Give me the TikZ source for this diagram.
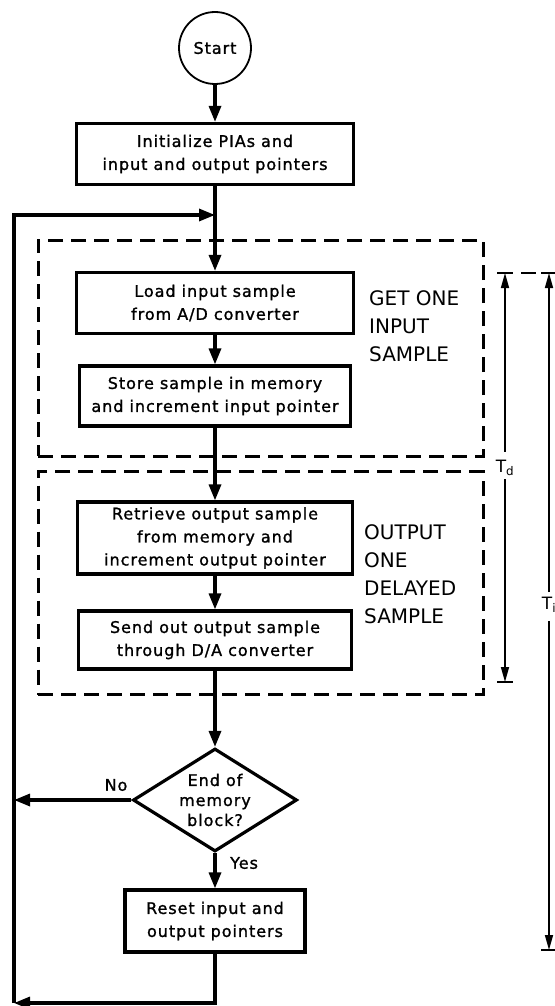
\documentclass[tikz,border=0pt]{standalone}
\usepackage{fontspec}
\setmainfont{DejaVu Sans}
\newfontfamily\boxfont[LetterSpace=6,FakeBold=1.3]{DejaVu Sans}
\usetikzlibrary{arrows.meta,shapes.geometric}

\begin{document}
\begin{tikzpicture}[x=1pt,y=-1pt,
  every node/.style={inner sep=0pt},
  proc/.style={draw,line width=3.2pt,align=center,
    font=\boxfont\fontsize{16}{23}\selectfont},
  decision/.style={draw,diamond,line width=3.2pt,minimum width=164pt,minimum height=103pt},
  term/.style={draw,circle,line width=1.8pt,minimum size=72pt,
    font=\boxfont\fontsize{16}{20}\selectfont},
  dashbox/.style={draw,line width=3pt,dash pattern=on 15pt off 8pt},
  grouplabel/.style={align=left,anchor=west,font=\fontsize{20}{28}\selectfont},
  flow/.style={line width=3.2pt,line join=miter,-{Triangle[length=16pt,width=12pt]}},
  small/.style={font=\boxfont\fontsize{16}{20}\selectfont},
  dim/.style={line width=1.6pt,-{Triangle[length=15pt,width=8pt]}},
  tick/.style={line width=2pt},
  dimlabel/.style={font=\fontsize{17}{19}\selectfont}]
\useasboundingbox (0,0) rectangle (554,1006);

% process steps
\node[term] (start) at (215,48) {Start};
\node[proc,minimum width=277pt,minimum height=61pt] (init) at (215,154)
  {Initialize PIAs and\\input and output pointers};
\node[proc,minimum width=277pt,minimum height=61pt] (load) at (215,303)
  {Load input sample\\from A/D converter};
\node[proc,minimum width=271pt,minimum height=60pt] (store) at (215,396)
  {Store sample in memory\\and increment input pointer};
\node[proc,minimum width=275pt,minimum height=72pt] (retr) at (215,538)
  {Retrieve output sample\\from memory and\\increment output pointer};
\node[proc,minimum width=273pt,minimum height=58pt] (send) at (215,640)
  {Send out output sample\\through D/A converter};
\node[decision] (dec) at (215,800) {};
\node[small,align=center] (dectext) at (dec.center)
  {End of\\memory\\block?};
\node[proc,minimum width=180pt,minimum height=62pt] (reset) at (215,921)
  {Reset input and\\output pointers};

% dashed groups
\node[dashbox,minimum width=445pt,minimum height=216pt] (grpin) at (260.5,348) {};
\node[dashbox,minimum width=445pt,minimum height=223pt] (grpout) at (260.5,583) {};
\node[grouplabel] (lblin) at (369,326) {GET ONE\\INPUT\\SAMPLE};
\node[grouplabel] (lblout) at (364,574) {OUTPUT\\ONE\\DELAYED\\SAMPLE};

% main flow
\draw[flow] (start) -- (init);
\draw[flow] (init) -- (load);
\draw[flow] (load) -- (store);
\draw[flow] (store) -- (retr);
\draw[flow] (retr) -- (send);
\draw[flow] (send) -- (dec);
\draw[flow] (dec) -- (reset);
\node[small,anchor=west] (yes) at (230,863) {Yes};

% return path
\coordinate (bl) at (14,1003);
\coordinate (join) at (215,215);
\draw[flow] (reset.south) |- (bl);
\draw[flow] (bl) |- (join);
\draw[flow] (dec.west) -- (dec.west -| bl);
\node[small] (no) at (116,785) {No};

% timing dimensions
\coordinate (tdtop) at (505,273);
\coordinate (tdbot) at (505,682);
\coordinate (titop) at (549,273);
\coordinate (tibot) at (549,950);
\node[dimlabel] (td) at (505,468) {T\textsubscript{d}};
\node[dimlabel] (ti) at (549,605) {T\textsubscript{i}};
\draw[dim] (td.north) ++(0,-8) -- (tdtop);
\draw[dim] (td.south) ++(0,3) -- (tdbot);
\draw[dim] (ti.north) ++(0,-5) -- (titop);
\draw[dim] (ti.south) ++(0,8) -- (tibot);
\draw[tick] ([xshift=-8pt]tdtop) -- ([xshift=8pt]tdtop);
\draw[tick] ([xshift=-8pt]tdbot) -- ([xshift=8pt]tdbot);
\draw[tick] ([xshift=-8pt]titop) -- ([xshift=8pt]titop);
\draw[tick] ([xshift=-8pt]tibot) -- ([xshift=8pt]tibot);
\draw[line width=1.2pt,dash pattern=on 15pt off 15pt,dash phase=22pt]
  ([xshift=8pt]tdtop) -- ([xshift=-8pt]titop);
\end{tikzpicture}
\end{document}
